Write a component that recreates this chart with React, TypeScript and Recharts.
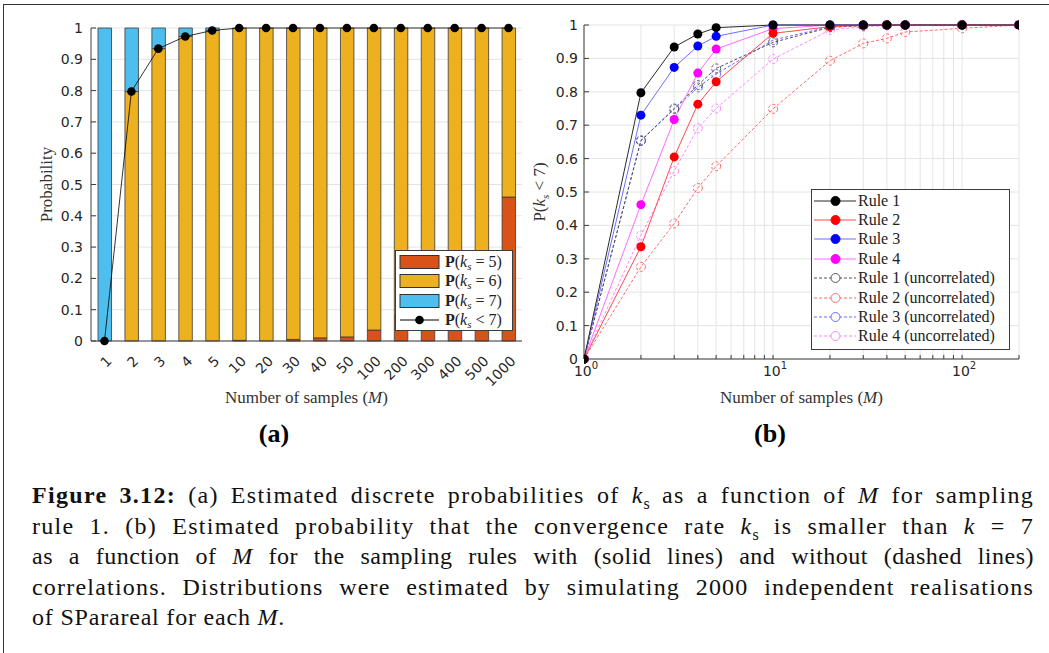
import React from "react";
import {
  ComposedChart,
  LineChart,
  Bar,
  Line,
  XAxis,
  YAxis,
  CartesianGrid,
  Legend,
} from "recharts";

// (a) discrete probabilities of k_s for sampling rule 1
const sampleCounts = ["1", "2", "3", "4", "5", "10", "20", "30", "40", "50", "100", "200", "300", "400", "500", "1000"];
const probKs5 = [0, 0, 0, 0, 0, 0.002, 0, 0.005, 0.01, 0.013, 0.035, 0.08, 0.12, 0.16, 0.2, 0.46];
const probKs6 = [0, 0.797, 0.934, 0.973, 0.992, 0.998, 1, 0.995, 0.99, 0.987, 0.965, 0.92, 0.88, 0.84, 0.8, 0.54];
const probKs7 = [1, 0.203, 0.066, 0.027, 0.008, 0, 0, 0, 0, 0, 0, 0, 0, 0, 0, 0];
const probKsBelow7 = [0, 0.797, 0.934, 0.973, 0.992, 1, 1, 1, 1, 1, 1, 1, 1, 1, 1, 1];

const probTicks = [0, 0.1, 0.2, 0.3, 0.4, 0.5, 0.6, 0.7, 0.8, 0.9, 1];

// (b) P(k_s < 7) against M, log x axis
const sampleM = [1, 2, 3, 4, 5, 10, 20, 30, 40, 50, 100, 200];
const rule1 = [0, 0.797, 0.934, 0.973, 0.992, 1, 1, 1, 1, 1, 1, 1];
const rule2 = [0, 0.336, 0.605, 0.763, 0.83, 0.975, 0.995, 0.999, 1, 1, 1, 1];
const rule3 = [0, 0.73, 0.873, 0.937, 0.966, 1, 1, 1, 1, 1, 1, 1];
const rule4 = [0, 0.462, 0.717, 0.856, 0.928, 0.989, 1, 1, 1, 1, 1, 1];
const rule1Uncorr = [0, 0.653, 0.75, 0.82, 0.87, 0.948, 0.993, 0.998, 1, 1, 1, 1];
const rule2Uncorr = [0, 0.276, 0.406, 0.512, 0.577, 0.749, 0.893, 0.945, 0.96, 0.979, 0.99, 1];
const rule3Uncorr = [0, 0.655, 0.748, 0.813, 0.853, 0.955, 0.995, 0.999, 1, 1, 1, 1];
const rule4Uncorr = [0, 0.37, 0.563, 0.691, 0.75, 0.898, 0.985, 0.995, 0.998, 1, 1, 1];

const logTicks = [1, 2, 3, 4, 5, 6, 7, 8, 9, 10, 20, 30, 40, 50, 60, 70, 80, 90, 100, 200];
const decadeLabels: Record<number, string> = { 1: "0", 10: "1", 100: "2" };

const barData = sampleCounts.map((m, i) => ({
  M: m,
  p5: probKs5[i],
  p6: probKs6[i],
  p7: probKs7[i],
  below7: probKsBelow7[i],
}));

const ruleData = sampleM.map((m, i) => ({
  M: m,
  rule1: rule1[i],
  rule2: rule2[i],
  rule3: rule3[i],
  rule4: rule4[i],
  rule1u: rule1Uncorr[i],
  rule2u: rule2Uncorr[i],
  rule3u: rule3Uncorr[i],
  rule4u: rule4Uncorr[i],
}));

const ruleSeries = [
  { key: "rule1", name: "Rule 1", line: "#2b2b2b", mark: "#000000", open: false },
  { key: "rule2", name: "Rule 2", line: "#ff4a4a", mark: "#ff0000", open: false },
  { key: "rule3", name: "Rule 3", line: "#6f6fff", mark: "#0000ff", open: false },
  { key: "rule4", name: "Rule 4", line: "#ff6bff", mark: "#ff00ff", open: false },
  { key: "rule1u", name: "Rule 1 (uncorrelated)", line: "#555555", mark: "#555555", open: true },
  { key: "rule2u", name: "Rule 2 (uncorrelated)", line: "#ff6a6a", mark: "#ff6a6a", open: true },
  { key: "rule3u", name: "Rule 3 (uncorrelated)", line: "#6b6bff", mark: "#6b6bff", open: true },
  { key: "rule4u", name: "Rule 4 (uncorrelated)", line: "#ff85ff", mark: "#ff85ff", open: true },
];

const barSeries = [
  { key: "p5", value: "= 5", color: "#D95319" },
  { key: "p6", value: "= 6", color: "#EDB120" },
  { key: "p7", value: "= 7", color: "#4DBEEE" },
];

const TICK_FONT = "'DejaVu Sans', sans-serif";
const SERIF = "'Liberation Serif', 'Times New Roman', serif";
const AXIS = "#3c3c3c";
const GRID = "#e4e4e4";

const Ks = () => (
  <>
    <i>k</i>
    <sub style={{ fontSize: 11, verticalAlign: -3, lineHeight: 0, fontStyle: "italic" }}>s</sub>
  </>
);

const yTick = (p: any) => (
  <text x={p.x} y={p.y} dy={5} textAnchor="end" fontFamily={TICK_FONT} fontSize={14} fill="#262626">
    {p.payload.value}
  </text>
);

const rotatedTick = (p: any) => (
  <text
    transform={`translate(${p.x + 8},${p.y + 19}) rotate(-45)`}
    textAnchor="end"
    fontFamily={TICK_FONT}
    fontSize={14}
    fill="#262626"
  >
    {p.payload.value}
  </text>
);

const logTick = (p: any) => {
  const exp = decadeLabels[p.payload.value];
  if (exp === undefined) return <g />;
  return (
    <text x={p.x + 2} y={p.y + 17} textAnchor="middle" fontFamily={TICK_FONT} fontSize={14} fill="#262626">
      <tspan>10</tspan>
      <tspan dy={-7} fontSize={10}>{exp}</tspan>
    </text>
  );
};

const xTitle = (offsetY: number) => (p: any) => {
  const vb = p.viewBox;
  return (
    <text x={vb.x + vb.width / 2} y={vb.y + offsetY} textAnchor="middle" fontFamily={SERIF} fontSize={17} fill="#333">
      Number of samples (<tspan fontStyle="italic">M</tspan>)
    </text>
  );
};

const probTitle = (p: any) => {
  const vb = p.viewBox;
  const cx = vb.x + 1;
  const cy = vb.y + vb.height / 2;
  return (
    <text transform={`translate(${cx},${cy}) rotate(-90)`} textAnchor="middle" fontFamily={SERIF} fontSize={17} fill="#333">
      Probability
    </text>
  );
};

const ksTitle = (p: any) => {
  const vb = p.viewBox;
  const cx = vb.x + 1;
  const cy = vb.y + vb.height / 2;
  return (
    <text transform={`translate(${cx},${cy}) rotate(-90)`} textAnchor="middle" fontFamily={SERIF} fontSize={17} fill="#333">
      P(<tspan fontStyle="italic">k</tspan>
      <tspan fontStyle="italic" fontSize={11} dy={4}>s</tspan>
      <tspan dy={-4}> {"<"} 7)</tspan>
    </text>
  );
};

const BarLegend = () => (
  <div
    style={{
      width: 116,
      height: 78,
      border: `1px solid ${AXIS}`,
      background: "#fff",
      fontFamily: SERIF,
      fontSize: 16,
      color: "#222",
      paddingTop: 1,
      boxSizing: "content-box",
    }}
  >
    {[...barSeries, { key: "below7", value: "< 7", color: "" }].map((s) => (
      <div key={s.key} style={{ display: "flex", alignItems: "center", height: 19.5, whiteSpace: "nowrap" }}>
        <svg width={46} height={16} style={{ marginLeft: 3 }}>
          {s.color ? (
            <rect x={1} y={1.5} width={39} height={13} fill={s.color} stroke="#333" strokeWidth={1} />
          ) : (
            <>
              <line x1={1} x2={40} y1={8} y2={8} stroke="#000" strokeWidth={1} />
              <circle cx={20.5} cy={8} r={4.3} fill="#000" />
            </>
          )}
        </svg>
        <span>
          <b>P</b>(<Ks /> {s.value})
        </span>
      </div>
    ))}
  </div>
);

const RuleLegend = () => (
  <div
    style={{
      width: 197,
      height: 158,
      border: `1px solid ${AXIS}`,
      background: "#fff",
      fontFamily: SERIF,
      fontSize: 16,
      color: "#222",
      paddingTop: 1,
    }}
  >
    {ruleSeries.map((s) => (
      <div key={s.key} style={{ display: "flex", alignItems: "center", height: 19.4, whiteSpace: "nowrap" }}>
        <svg width={45} height={16} style={{ marginLeft: 1 }}>
          <line
            x1={1}
            x2={43}
            y1={8}
            y2={8}
            stroke={s.line}
            strokeWidth={1}
            strokeDasharray={s.open ? "3 2" : undefined}
          />
          <circle cx={22.5} cy={8} r={4.5} fill={s.open ? "#fff" : s.mark} stroke={s.mark} strokeWidth={1} />
        </svg>
        <span>{s.name}</span>
      </div>
    ))}
  </div>
);

function DistributionChart() {
  return (
    <ComposedChart
      width={530}
      height={460}
      data={barData}
      margin={{ top: 28, right: 8, bottom: 59, left: 51 }}
    >
      <CartesianGrid vertical={false} stroke={GRID} />
      <XAxis
        dataKey="M"
        interval={0}
        height={60}
        tickSize={0}
        tickLine={false}
        tick={rotatedTick}
        axisLine={{ stroke: AXIS }}
        label={xTitle(62)}
      />
      <XAxis xAxisId="top" dataKey="M" orientation="top" height={0} tick={false} tickLine={false} axisLine={{ stroke: AXIS }} />
      <YAxis
        domain={[0, 1]}
        ticks={probTicks}
        width={40}
        tickSize={-5}
        tickMargin={13}
        tick={yTick}
        tickLine={{ stroke: AXIS }}
        axisLine={{ stroke: AXIS }}
        label={probTitle}
      />
      <YAxis
        yAxisId="right"
        orientation="right"
        domain={[0, 1]}
        ticks={probTicks}
        width={0}
        tickSize={-5}
        tick={false}
        tickLine={{ stroke: AXIS }}
        axisLine={{ stroke: AXIS }}
      />
      {barSeries.map((s) => (
        <Bar
          key={s.key}
          dataKey={s.key}
          stackId="ks"
          barSize={13.5}
          fill={s.color}
          stroke="#3a3a3a"
          strokeWidth={0.8}
          isAnimationActive={false}
        />
      ))}
      <Line
        dataKey="below7"
        stroke="#000"
        strokeWidth={0.8}
        dot={{ r: 4.3, fill: "#000", stroke: "#000", strokeWidth: 0 }}
        activeDot={false}
        isAnimationActive={false}
      />
      <Legend
        layout="vertical"
        align="center"
        verticalAlign="middle"
        content={() => <BarLegend />}
        wrapperStyle={{ left: 395, top: 250, width: 118, height: 80 }}
      />
    </ComposedChart>
  );
}

function RuleChart() {
  return (
    <LineChart
      width={519}
      height={460}
      data={ruleData}
      margin={{ top: 25, right: 30, bottom: 61, left: 14 }}
    >
      <CartesianGrid stroke={GRID} />
      <XAxis
        dataKey="M"
        type="number"
        scale="log"
        domain={[1, 200]}
        allowDataOverflow
        ticks={logTicks}
        interval={0}
        height={40}
        tickSize={-4}
        tickMargin={4}
        tick={logTick}
        tickLine={{ stroke: AXIS }}
        axisLine={{ stroke: AXIS }}
        label={xTitle(44)}
      />
      <XAxis
        xAxisId="top"
        dataKey="M"
        type="number"
        scale="log"
        domain={[1, 200]}
        allowDataOverflow
        ticks={logTicks}
        interval={0}
        orientation="top"
        height={0}
        tickSize={-4}
        tick={false}
        tickLine={{ stroke: AXIS }}
        axisLine={{ stroke: AXIS }}
      />
      <YAxis
        domain={[0, 1]}
        ticks={probTicks}
        width={40}
        tickSize={-5}
        tickMargin={11}
        tick={yTick}
        tickLine={{ stroke: AXIS }}
        axisLine={{ stroke: AXIS }}
        label={ksTitle}
      />
      <YAxis
        yAxisId="right"
        orientation="right"
        domain={[0, 1]}
        ticks={probTicks}
        width={0}
        tickSize={-5}
        tick={false}
        tickLine={{ stroke: AXIS }}
        axisLine={{ stroke: AXIS }}
      />
      {[...ruleSeries].reverse().map((s) => (
        <Line
          key={s.key}
          dataKey={s.key}
          type="linear"
          stroke={s.line}
          strokeWidth={1}
          strokeDasharray={s.open ? "3 2" : undefined}
          dot={{ r: 4.5, fill: s.open ? "none" : s.mark, stroke: s.mark, strokeWidth: s.open ? 1 : 0 }}
          activeDot={false}
          isAnimationActive={false}
        />
      ))}
      <Legend
        layout="vertical"
        align="center"
        verticalAlign="middle"
        content={() => <RuleLegend />}
        wrapperStyle={{ left: 281, top: 189, width: 199, height: 160 }}
      />
    </LineChart>
  );
}

// each caption line is justified to the full width; looser lines get a little letter spacing
const captionLine = (spacing: number, last = false): React.CSSProperties => ({
  height: 30.5,
  lineHeight: "30.5px",
  textAlign: "justify",
  textAlignLast: last ? "left" : "justify",
  letterSpacing: spacing,
  whiteSpace: "normal",
});

const sub: React.CSSProperties = { fontSize: 16, lineHeight: 0, letterSpacing: 0 };

export default function App() {
  return (
    <div
      style={{
        position: "absolute",
        left: 0,
        top: 0,
        width: 1049,
        height: 653,
        background: "#fff",
        overflow: "hidden",
      }}
    >
      <div
        style={{
          position: "absolute",
          left: 3,
          top: 4,
          right: -5,
          bottom: -5,
          borderLeft: "1.5px solid #333",
          borderTop: "1.5px solid #333",
        }}
      />
      <div style={{ position: "absolute", left: 0, top: 0 }}>
        <DistributionChart />
      </div>
      <div style={{ position: "absolute", left: 530, top: 0 }}>
        <RuleChart />
      </div>
      <div
        style={{ position: "absolute", left: 234, top: 419, width: 80, textAlign: "center", fontFamily: SERIF, fontWeight: "bold", fontSize: 26 }}
      >
        (a)
      </div>
      <div
        style={{ position: "absolute", left: 730, top: 419, width: 80, textAlign: "center", fontFamily: SERIF, fontWeight: "bold", fontSize: 26 }}
      >
        (b)
      </div>
      <div
        style={{
          position: "absolute",
          left: 32,
          top: 480,
          width: 1002,
          fontFamily: SERIF,
          fontSize: 24,
          color: "#111",
        }}
      >
        <div style={captionLine(1.3)}>
          <b>Figure 3.12:</b> (a) Estimated discrete probabilities of <i>k</i>
          <sub style={sub}>s</sub> as a function of <i>M</i> for sampling
        </div>
        <div style={captionLine(1.3)}>
          rule 1. (b) Estimated probability that the convergence rate <i>k</i>
          <sub style={sub}>s</sub> is smaller than <i>k</i> = 7
        </div>
        <div style={captionLine(0.5)}>
          as a function of <i>M</i> for the sampling rules with (solid lines) and without (dashed lines)
        </div>
        <div style={captionLine(1.2)}>
          correlations. Distributions were estimated by simulating 2000 independent realisations
        </div>
        <div style={captionLine(0.8, true)}>
          of SParareal for each <i>M</i>.
        </div>
      </div>
    </div>
  );
}
